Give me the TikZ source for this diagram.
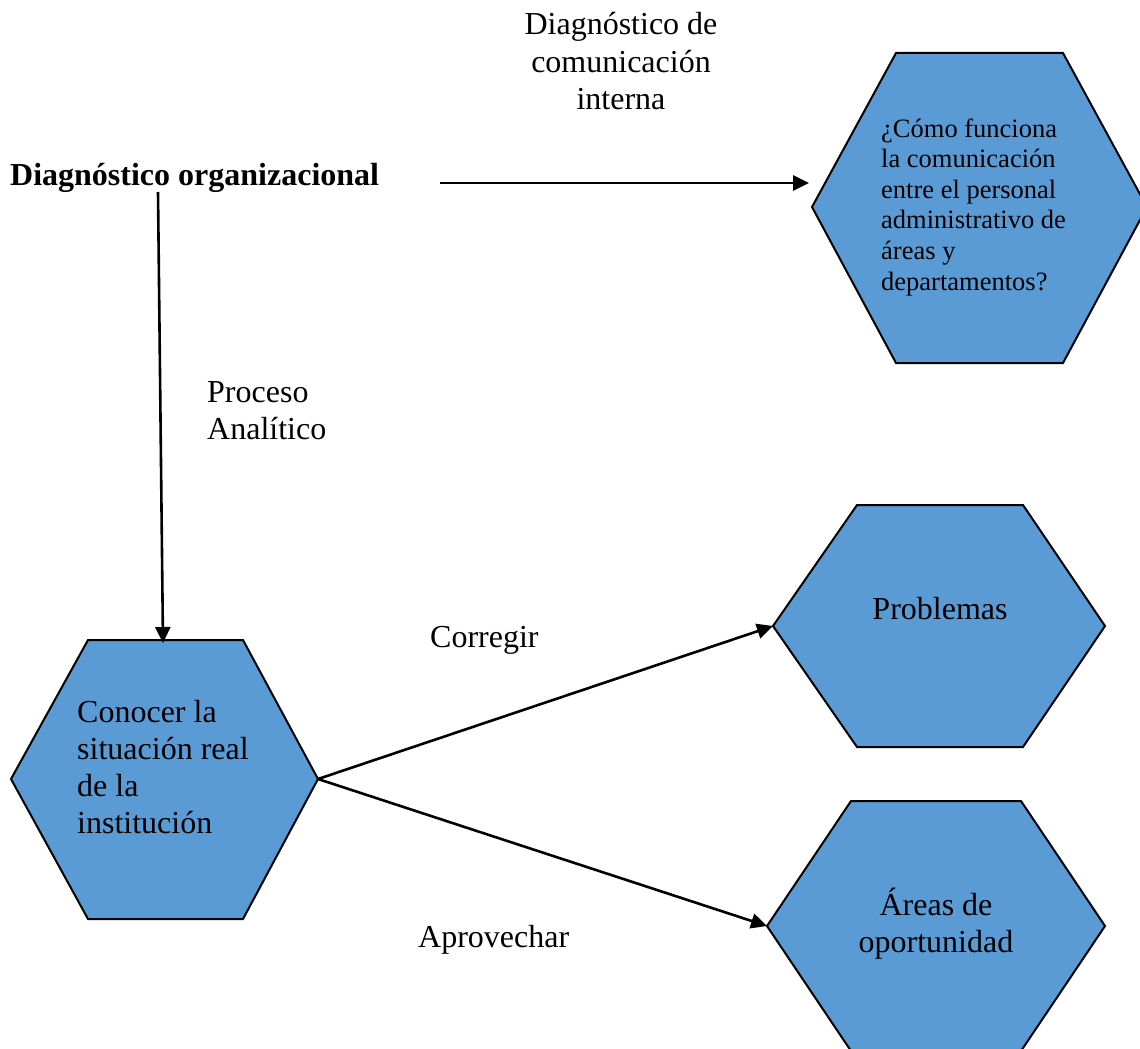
\documentclass[tikz,border=0pt]{standalone}
\usepackage{fontspec}
\setmainfont{Liberation Serif}
\usetikzlibrary{arrows.meta}
\definecolor{hexfill}{RGB}{91,155,213}

\begin{document}
\begin{tikzpicture}[x=1pt,y=-1pt,
  hexagon/.style={draw=black, line width=2pt, fill=hexfill, line join=miter},
  link/.style={draw=black, line width=2.6pt, -{Triangle[length=16pt,width=15pt]}},
  big/.style={font=\fontsize{32}{37}\selectfont, inner sep=0pt},
  small/.style={font=\fontsize{26.5}{30.6}\selectfont, inner sep=0pt},
]
\path[use as bounding box] (0,0) rectangle (1140,1049);
\clip (0,0) rectangle (1140,1049);

% hexagons (flat top and bottom, pointed left and right)
\draw[hexagon] (812,207) coordinate (com-w) -- (896,53) -- (1063,53)
  -- (1147,207) -- (1063,363) -- (896,363) -- cycle;
\draw[hexagon] (11,779) coordinate (sit-w) -- (88,640) -- (243,640)
  -- (318,779) coordinate (sit-e) -- (243,919) -- (88,919) -- cycle;
\draw[hexagon] (773,626) coordinate (prob-w) -- (857,505) -- (1023,505)
  -- (1105,626) -- (1023,747) -- (857,747) -- cycle;
\draw[hexagon] (767,926) coordinate (opp-w) -- (851,801) -- (1021,801)
  -- (1105,926) -- (1021,1051) -- (851,1051) -- cycle;

% texts inside the hexagons (base anchor = baseline of the last line)
\node[small, anchor=base west, align=left] (com) at (881,290)
  {¿Cómo funciona\\la comunicación\\entre el personal\\administrativo de\\áreas y\\departamentos?};
\node[big, anchor=base west, align=left] (sit) at (77,833)
  {Conocer la\\situación real\\de la\\institución};
\node[big, anchor=base] (prob) at (940,619) {Problemas};
\node[big, anchor=base, align=center] (opp) at (936,952) {Áreas de\\oportunidad};

% free labels
\node[big, anchor=base west] (diag) at (10,185) {\bfseries Diagnóstico organizacional};
\node[big, anchor=base, align=center] (dci) at (621,109)
  {Diagnóstico de\\comunicación\\interna};
\node[big, anchor=base west, align=left] (proc) at (207,439) {Proceso\\Analítico};
\node[big, anchor=base west] (corr) at (430,647) {Corregir};
\node[big, anchor=base west] (aprov) at (418,947) {Aprovechar};

% connector ends
\coordinate (h-start) at (440,183);
\coordinate (com-in) at (809,183);
\coordinate (v-start) at (158,192);
\coordinate (sit-n) at (163,643);

% connectors
\draw[link] (h-start) -- (com-in);
\draw[link] (v-start) -- (sit-n);
\draw[link] (sit-e) -- (prob-w);
\draw[link] (sit-e) -- (opp-w);
\end{tikzpicture}
\end{document}
